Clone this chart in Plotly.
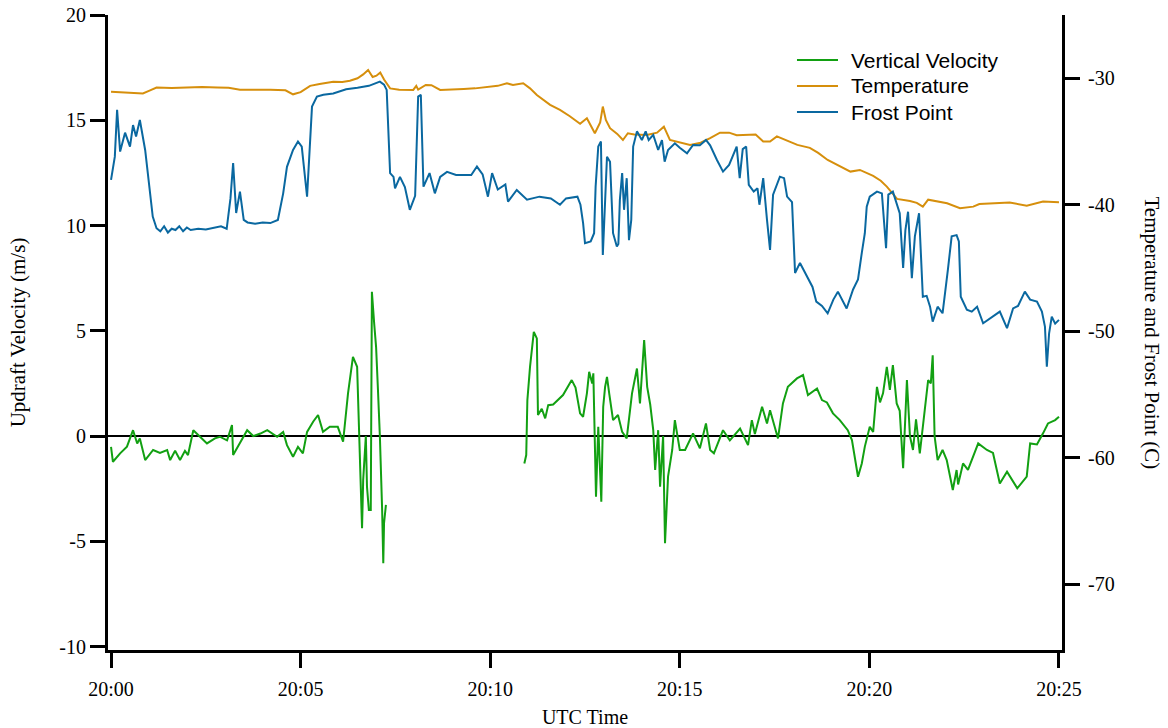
import plotly.graph_objects as go

# ---- data (minutes after 20:00 UTC) ----
vv_time_1 = [0.0, 0.05, 0.24, 0.42, 0.58, 0.69, 0.76, 0.9, 1.11, 1.29, 1.48, 1.56, 1.69, 1.82, 1.95, 2.03,
             2.17, 2.35, 2.53, 2.74, 2.87, 3.06, 3.19, 3.22, 3.4, 3.59, 3.75, 3.94, 4.12, 4.38, 4.54, 4.64,
             4.8, 4.93, 5.06, 5.17, 5.33, 5.46, 5.59, 5.77, 5.98, 6.12, 6.25, 6.38, 6.49, 6.52, 6.59, 6.62,
             6.65, 6.72, 6.75, 6.8, 6.85, 6.88, 6.94, 6.99, 7.04, 7.09, 7.15, 7.18, 7.2, 7.25]
vv_values_1 = [-0.51, -1.22, -0.82, -0.5, 0.28, -0.35, -0.11, -1.14, -0.66, -0.8, -0.66, -1.14, -0.7, -1.14, -0.7, -0.9,
               0.28, -0.03, -0.35, -0.11, -0.03, -0.2, 0.52, -0.9, -0.35, 0.28, 0.0, 0.12, 0.28, -0.03, 0.2, -0.43,
               -0.98, -0.51, -0.82, 0.2, 0.68, 1.0, 0.2, 0.44, 0.44, -0.27, 2.03, 3.76, 3.29, 1.55, -2.09, -4.38,
               -2.09, 0.0, -2.4, -3.51, -3.51, 6.85, 5.35, 4.24, 2.18, 0.0, -3.51, -6.04, -4.13, -3.27]
vv_time_2 = [10.9, 10.95, 10.98, 11.05, 11.15, 11.23, 11.26, 11.36, 11.45, 11.53, 11.66, 11.92, 12.15, 12.25, 12.37,
             12.45, 12.55, 12.61, 12.69, 12.72, 12.79, 12.85, 12.93, 12.98, 13.03, 13.08, 13.14, 13.24, 13.37, 13.48,
             13.6, 13.74, 13.87, 13.95, 14.06, 14.14, 14.22, 14.3, 14.35, 14.43, 14.48, 14.56, 14.61, 14.69, 14.8,
             14.87, 15.0, 15.14, 15.35, 15.53, 15.69, 15.8, 15.9, 16.14, 16.32, 16.59, 16.8, 16.9, 16.98, 17.17,
             17.3, 17.38, 17.59, 17.72, 17.85, 18.09, 18.25, 18.38, 18.62, 18.75, 18.88, 19.04, 19.22, 19.43, 19.54,
             19.7, 19.8, 19.88, 20.01, 20.1, 20.2, 20.28, 20.36, 20.46, 20.54, 20.62, 20.72, 20.8, 20.89, 20.99,
             21.07, 21.15, 21.23, 21.33, 21.46, 21.55, 21.62, 21.67, 21.72, 21.8, 21.93, 22.04, 22.2, 22.3, 22.34,
             22.47, 22.6, 22.87, 23.1, 23.26, 23.44, 23.63, 23.9, 24.15, 24.24, 24.42, 24.58, 24.71, 24.9, 25.0]
vv_values_2 = [-1.3, -0.9, 1.71, 3.29, 4.95, 4.64, 1.0, 1.3, 0.84, 1.47, 1.5, 1.95, 2.66, 2.3, 1.08,
               0.92, 2.03, 3.05, 2.5, 2.98, -2.88, 0.44, -3.12, 1.39, 2.34, 2.81, 2.0, 0.76, 1.0, 0.2,
               -0.11, 2.03, 3.21, 1.55, 4.56, 2.34, 1.5, 0.28, -1.61, 0.28, -2.4, 0.0, -5.09, -1.93, -0.66,
               0.76, -0.66, -0.66, 0.13, -0.58, 0.6, -0.66, -0.82, 0.28, -0.2, 0.36, -0.43, 0.76, 0.1, 1.39,
               0.6, 1.23, -0.11, 1.55, 2.34, 2.74, 2.9, 1.95, 2.26, 1.71, 1.6, 1.08, 0.76, 0.28, -0.19,
               -1.93, -1.3, -0.5, 0.44, 0.2, 2.34, 1.6, 2.03, 3.29, 2.2, 3.37, 1.55, 1.2, -1.53, 2.66,
               0.0, -0.66, 0.8, -0.82, 1.23, 2.66, 2.5, 3.84, 0.0, -1.14, -0.66, -1.14, -2.56, -1.61, -2.3,
               -1.3, -1.6, -0.35, -0.66, -0.8, -2.25, -1.69, -2.48, -1.93, -0.35, -0.4, 0.13, 0.6, 0.76, 0.92]

temp_time = [0.0, 0.4, 0.84, 1.0, 1.2, 1.6, 2.0, 2.4, 2.8, 3.1, 3.4, 3.8, 4.2, 4.6, 4.8, 5.0, 5.25, 5.5, 5.86,
             6.1, 6.3, 6.5, 6.65, 6.78, 6.9, 7.0, 7.1, 7.2, 7.36, 7.6, 7.97, 8.05, 8.1, 8.3, 8.45, 8.68, 9.0,
             9.3, 9.6, 9.9, 10.2, 10.44, 10.6, 10.87, 11.05, 11.23, 11.58, 11.84, 12.1, 12.37, 12.55, 12.76,
             12.9, 12.97, 13.05, 13.16, 13.35, 13.5, 13.63, 13.8, 14.13, 14.4, 14.58, 14.74, 15.0, 15.27,
             15.55, 15.8, 16.06, 16.3, 16.5, 16.77, 17.0, 17.2, 17.38, 17.56, 17.8, 18.1, 18.43, 18.65, 18.9,
             19.2, 19.5, 19.75, 20.1, 20.3, 20.46, 20.73, 21.07, 21.25, 21.41, 21.55, 21.8, 22.05, 22.39,
             22.74, 22.9, 23.3, 23.7, 24.15, 24.58, 25.0]
temp_values = [-31.06, -31.1, -31.2, -31.0, -30.74, -30.78, -30.72, -30.7, -30.74, -30.76, -30.9, -30.88, -30.9,
               -30.95, -31.27, -31.1, -30.6, -30.45, -30.27, -30.3, -30.2, -30.0, -29.7, -29.35, -29.9, -29.8,
               -29.55, -30.1, -30.8, -30.9, -30.92, -30.6, -30.9, -30.53, -30.55, -30.92, -30.9, -30.85, -30.8,
               -30.7, -30.6, -30.4, -30.53, -30.4, -30.8, -31.32, -32.1, -32.5, -33.0, -33.6, -33.16, -34.35,
               -33.5, -32.24, -33.3, -33.95, -34.4, -34.88, -34.35, -34.45, -34.48, -34.3, -33.83, -34.88, -35.1,
               -35.27, -35.1, -34.74, -34.3, -34.3, -34.5, -34.48, -34.45, -35.0, -35.0, -34.6, -34.9, -35.27,
               -35.5, -35.9, -36.46, -36.9, -37.38, -37.25, -37.72, -38.1, -38.57, -39.54, -39.7, -39.85, -40.15,
               -39.6, -39.75, -39.88, -40.28, -40.15, -39.94, -39.9, -39.83, -40.07, -39.75, -39.8]

fp_time = [0.0, 0.1, 0.16, 0.24, 0.37, 0.5, 0.58, 0.66, 0.76, 0.9, 1.1, 1.2, 1.3, 1.4, 1.5, 1.6, 1.7, 1.8, 1.9,
           2.0, 2.1, 2.3, 2.5, 2.7, 2.9, 3.05, 3.15, 3.22, 3.3, 3.4, 3.5, 3.6, 3.8, 4.0, 4.2, 4.4, 4.54, 4.64,
           4.8, 4.93, 5.03, 5.17, 5.3, 5.43, 5.6, 5.86, 6.2, 6.5, 6.8, 7.09, 7.2, 7.27, 7.36, 7.45, 7.49, 7.62,
           7.75, 7.88, 7.97, 8.02, 8.1, 8.17, 8.24, 8.4, 8.54, 8.68, 8.86, 9.1, 9.5, 9.65, 9.8, 9.94, 10.05,
           10.2, 10.4, 10.47, 10.7, 10.97, 11.3, 11.6, 11.84, 12.0, 12.3, 12.38, 12.45, 12.5, 12.65, 12.74,
           12.78, 12.85, 12.92, 12.97, 13.08, 13.16, 13.24, 13.34, 13.38, 13.42, 13.48, 13.53, 13.6, 13.66,
           13.72, 13.77, 13.87, 14.0, 14.1, 14.18, 14.3, 14.43, 14.53, 14.6, 14.69, 14.87, 15.0, 15.19, 15.35,
           15.53, 15.69, 15.8, 15.98, 16.14, 16.3, 16.5, 16.58, 16.66, 16.75, 16.82, 16.95, 17.05, 17.1, 17.2,
           17.3, 17.38, 17.46, 17.64, 17.75, 17.83, 17.96, 18.04, 18.17, 18.35, 18.5, 18.6, 18.75, 18.9, 19.05,
           19.17, 19.4, 19.57, 19.7, 19.8, 19.88, 19.93, 20.01, 20.2, 20.33, 20.44, 20.5, 20.62, 20.72, 20.8,
           20.89, 20.95, 21.02, 21.12, 21.2, 21.31, 21.41, 21.51, 21.6, 21.67, 21.8, 21.93, 22.07, 22.17, 22.3,
           22.36, 22.41, 22.57, 22.7, 22.84, 23.0, 23.26, 23.44, 23.63, 23.79, 23.92, 24.1, 24.24, 24.42,
           24.55, 24.63, 24.68, 24.74, 24.81, 24.9, 25.0]
fp_values = [-38.04, -36.2, -32.5, -35.8, -34.3, -35.4, -33.7, -34.6, -33.3, -35.67, -40.94, -41.86, -42.1, -41.7,
             -42.2, -41.9, -42.0, -41.7, -42.1, -41.8, -42.0, -41.9, -41.95, -41.8, -41.7, -41.9, -39.5, -36.7,
             -40.65, -38.96, -41.2, -41.4, -41.5, -41.4, -41.45, -41.2, -39.1, -37.0, -35.67, -35.0, -35.4,
             -39.36, -32.24, -31.45, -31.3, -31.2, -30.87, -30.75, -30.6, -30.27, -30.5, -30.92, -37.5, -37.8,
             -38.7, -37.8, -38.6, -40.4, -39.6, -39.3, -31.45, -31.3, -38.57, -37.5, -39.1, -37.8, -37.4, -37.65,
             -37.65, -36.98, -37.6, -39.36, -37.5, -38.8, -38.4, -39.75, -38.83, -39.6, -39.36, -39.5, -40.0,
             -39.5, -39.36, -40.0, -41.46, -43.04, -42.9, -42.25, -38.57, -35.4, -35.0, -43.97, -36.2, -36.6,
             -42.25, -43.3, -43.1, -39.6, -37.5, -40.4, -37.9, -42.8, -41.2, -35.4, -34.2, -34.88, -34.2,
             -34.88, -34.48, -35.67, -34.9, -36.6, -35.67, -35.14, -35.5, -35.93, -35.27, -35.3, -34.88, -35.3,
             -36.46, -37.38, -36.85, -35.4, -37.9, -35.6, -35.4, -38.43, -38.96, -38.7, -40.0, -37.9, -41.2,
             -43.57, -39.2, -37.78, -37.9, -39.36, -39.8, -45.4, -44.6, -45.7, -46.5, -47.66, -48.0, -48.58,
             -47.5, -46.87, -48.2, -46.7, -45.9, -43.8, -42.25, -40.15, -39.36, -38.96, -39.1, -43.44, -39.2,
             -38.96, -39.9, -40.67, -45.0, -42.0, -40.55, -45.8, -42.5, -40.67, -47.27, -47.2, -48.06, -49.24,
             -48.06, -48.58, -45.15, -42.5, -42.4, -42.9, -47.27, -48.3, -48.45, -48.06, -49.37, -48.85, -48.45,
             -49.76, -48.2, -48.0, -46.87, -47.5, -47.66, -48.45, -49.63, -52.8, -50.16, -48.85, -49.4, -49.1]

series_names = ["Vertical Velocity", "Temperature", "Frost Point"]
x_tick_vals = [0, 5, 10, 15, 20, 25]
x_tick_text = ["20:00", "20:05", "20:10", "20:15", "20:20", "20:25"]
y_tick_vals = [-10, -5, 0, 5, 10, 15, 20]
y_tick_text = ["-10", "-5", "0", "5", "10", "15", "20"]
y2_tick_vals = [-70, -60, -50, -40, -30]
y2_tick_text = ["-70", "-60", "-50", "-40", "-30"]

GREEN = "#12a012"
ORANGE = "#d68f0c"
BLUE = "#0a68a0"
COLORS = [GREEN, ORANGE, BLUE]
SERIF = "Liberation Serif, Times New Roman, serif"
SANS = "Liberation Sans, Arial, sans-serif"

vv_time = vv_time_1 + [None] + vv_time_2
vv_values = vv_values_1 + [None] + vv_values_2

fig = go.Figure()
fig.add_trace(go.Scatter(x=vv_time, y=vv_values, mode="lines", name=series_names[0],
                         line=dict(color=GREEN, width=2), connectgaps=False, yaxis="y"))
fig.add_trace(go.Scatter(x=temp_time, y=temp_values, mode="lines", name=series_names[1],
                         line=dict(color=ORANGE, width=2), yaxis="y2"))
fig.add_trace(go.Scatter(x=fp_time, y=fp_values, mode="lines", name=series_names[2],
                         line=dict(color=BLUE, width=2), yaxis="y2"))

axis_common = dict(showgrid=False, showline=True, linecolor="black", linewidth=3,
                   ticks="outside", ticklen=15, tickwidth=3, tickcolor="black", automargin=False,
                   tickfont=dict(family=SERIF, size=20, color="black"))

# legend drawn in paper coordinates (line sample + label)
leg_x0, leg_x1, leg_text_x = 0.7222, 0.7652, 0.7767
leg_rows_y = [0.9291, 0.8882, 0.8472]
shapes = []
annotations = []
for name, color, ly in zip(series_names, COLORS, leg_rows_y):
    shapes.append(dict(type="line", xref="paper", yref="paper", x0=leg_x0, x1=leg_x1, y0=ly, y1=ly,
                       line=dict(color=color, width=2)))
    annotations.append(dict(text=name, xref="paper", yref="paper", x=leg_text_x, y=ly,
                            xanchor="left", yanchor="middle", showarrow=False,
                            font=dict(family=SANS, size=21, color="black")))
annotations.append(dict(text="Temperature and Frost Point (C)", xref="paper", yref="paper",
                        x=1.0, xshift=90, y=0.5, xanchor="center", yanchor="middle",
                        textangle=90, showarrow=False,
                        font=dict(family=SERIF, size=21, color="black")))

fig.update_layout(
    width=1168, height=728,
    margin=dict(l=108, r=106, t=15, b=78, autoexpand=False),
    paper_bgcolor="white", plot_bgcolor="white",
    showlegend=False,
    xaxis=dict(range=[-0.08, 25.08], tickvals=x_tick_vals, ticktext=x_tick_text,
               zeroline=False, ticklabelstandoff=4,
               title=dict(text="UTC Time", font=dict(family=SERIF, size=20, color="black"), standoff=12),
               **axis_common),
    yaxis=dict(range=[-10.16, 20], tickvals=y_tick_vals, ticktext=y_tick_text,
               zeroline=True, zerolinecolor="black", zerolinewidth=2,
               title=dict(text="Updraft Velocity (m/s)", font=dict(family=SERIF, size=21, color="black"),
                          standoff=28),
               **axis_common),
    yaxis2=dict(range=[-75.2, -25], tickvals=y2_tick_vals, ticktext=y2_tick_text,
                overlaying="y", side="right", zeroline=False, ticklabelstandoff=4, **axis_common),
    shapes=shapes,
    annotations=annotations,
)

fig.write_html("out.html")
